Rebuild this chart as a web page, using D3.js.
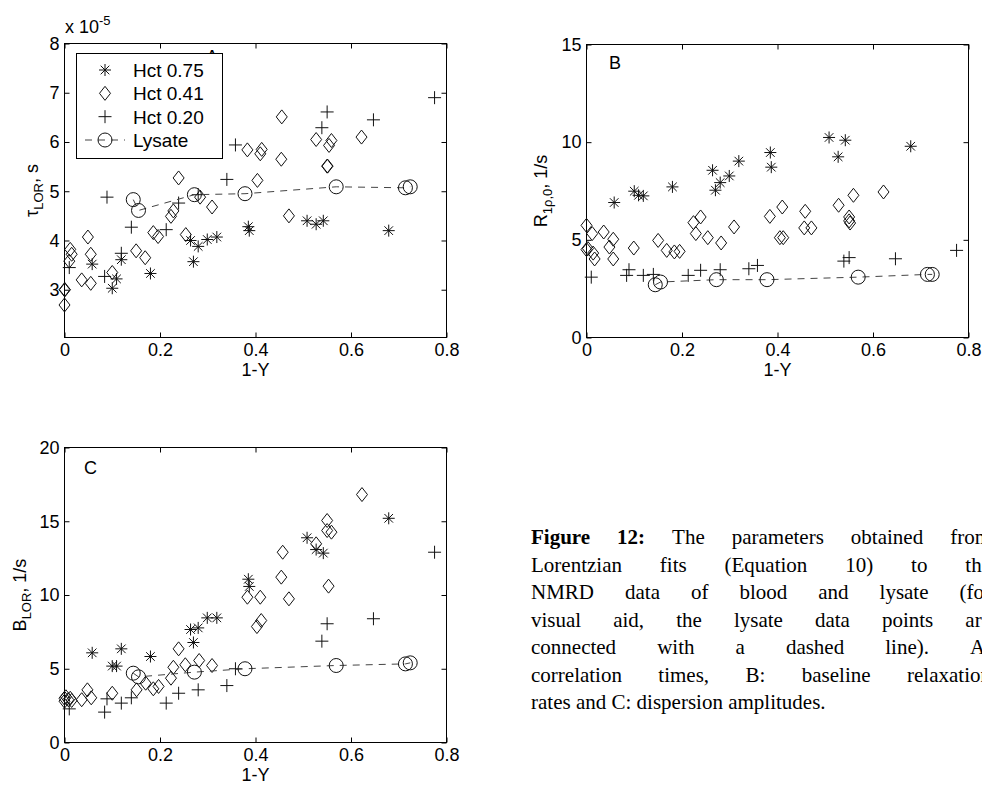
<!DOCTYPE html>
<html><head><meta charset="utf-8">
<script src="https://cdn.jsdelivr.net/npm/d3@7"></script>
<style>body{margin:0;background:#fff;overflow:hidden}svg{display:block}</style>
</head><body>
<svg id="c" width="982" height="791"></svg>
<script>
// ---------------- DATA ----------------
const xTicks = [0, 0.2, 0.4, 0.6, 0.8];
const xTickLabels = ["0", "0.2", "0.4", "0.6", "0.8"];
const yTicksA = [3, 4, 5, 6, 7, 8];
const yTicksB = [0, 5, 10, 15];
const yTicksC = [0, 5, 10, 15, 20];
const seriesNames = ["Hct 0.75", "Hct 0.41", "Hct 0.20", "Lysate"];

// Hct 0.75 (asterisks)
const hct75X = [0.058, 0.100, 0.109, 0.119, 0.180, 0.264, 0.270, 0.280, 0.299, 0.319, 0.385, 0.387, 0.508, 0.527, 0.542, 0.679];
const hct75A = [3.52, 3.03, 3.22, 3.61, 3.33, 4.00, 3.57, 3.88, 4.02, 4.07, 4.28, 4.20, 4.40, 4.33, 4.40, 4.20];
const hct75B = [6.91, 7.49, 7.28, 7.25, 7.71, 8.56, 7.54, 7.93, 8.27, 9.03, 9.47, 8.72, 10.24, 9.25, 10.10, 9.79];
const hct75C = [6.08, 5.18, 5.18, 6.35, 5.83, 7.66, 6.78, 7.77, 8.45, 8.45, 11.07, 10.58, 13.88, 13.08, 12.84, 15.20];

// Hct 0.20 (plus)
const hct20X = [0.010, 0.084, 0.089, 0.119, 0.140, 0.213, 0.239, 0.280, 0.340, 0.358, 0.539, 0.550, 0.647, 0.775];
const hct20A = [3.45, 3.27, 4.88, 3.74, 4.27, 4.22, 4.76, 4.93, 5.24, 5.94, 6.29, 6.61, 6.45, 6.90];
const hct20B = [3.09, 3.18, 3.47, 3.18, 3.23, 3.18, 3.44, 3.47, 3.52, 3.69, 3.91, 4.09, 4.03, 4.46];
const hct20C = [2.28, 2.06, 2.96, 2.67, 3.03, 2.67, 3.34, 3.57, 3.86, 5.00, 6.87, 8.05, 8.39, 12.90];

// Lysate (circles, dashed line)
const lysateX = [0.144, 0.155, 0.272, 0.378, 0.569, 0.714, 0.724];
const lysateA = [4.83, 4.61, 4.93, 4.95, 5.09, 5.07, 5.09];
const lysateB = [2.70, 2.84, 2.96, 2.96, 3.09, 3.23, 3.23];
const lysateC = [4.70, 4.45, 4.77, 5.00, 5.22, 5.33, 5.40];

// Hct 0.41 (diamonds), read per panel
const hct41AX = [0, 0.001, 0, 0.010, 0.012, 0.015, 0.036, 0.049, 0.055, 0.055, 0.100, 0.150, 0.169, 0.186, 0.196, 0.223, 0.228, 0.239, 0.254, 0.284, 0.309, 0.383, 0.404, 0.410, 0.413, 0.454, 0.455, 0.470, 0.527, 0.550, 0.551, 0.554, 0.559, 0.622];
const hct41AY = [3.00, 3.00, 2.69, 3.58, 3.82, 3.72, 3.20, 4.07, 3.72, 3.13, 3.35, 3.79, 3.65, 4.16, 4.08, 4.49, 4.60, 5.27, 4.12, 4.88, 4.68, 5.84, 5.22, 5.76, 5.85, 5.65, 6.51, 4.50, 6.05, 5.51, 5.51, 5.93, 6.03, 6.10];
const hct41BX = [0, 0, 0.003, 0.012, 0.014, 0.017, 0.036, 0.048, 0.056, 0.056, 0.099, 0.150, 0.168, 0.184, 0.195, 0.224, 0.229, 0.239, 0.254, 0.282, 0.309, 0.384, 0.405, 0.410, 0.412, 0.456, 0.458, 0.471, 0.528, 0.550, 0.550, 0.552, 0.559, 0.622];
const hct41BY = [5.74, 4.50, 4.55, 5.32, 4.32, 4.02, 5.40, 4.63, 5.03, 4.02, 4.58, 4.97, 4.46, 4.38, 4.41, 5.88, 5.32, 6.17, 5.11, 4.84, 5.66, 6.20, 5.11, 6.68, 5.11, 5.61, 6.46, 5.61, 6.77, 6.17, 5.97, 5.86, 7.28, 7.45];
const hct41CX = [0, 0, 0.003, 0.008, 0.012, 0.015, 0.036, 0.048, 0.056, 0.100, 0.151, 0.170, 0.186, 0.197, 0.223, 0.228, 0.239, 0.253, 0.282, 0.309, 0.383, 0.403, 0.410, 0.412, 0.454, 0.457, 0.470, 0.527, 0.550, 0.550, 0.553, 0.559, 0.623];
const hct41CY = [3.00, 2.80, 3.10, 2.90, 3.00, 2.85, 2.90, 3.57, 3.03, 3.34, 3.57, 4.02, 3.64, 3.80, 4.36, 5.10, 6.35, 5.27, 5.56, 5.22, 9.85, 7.86, 9.85, 8.27, 11.21, 12.90, 9.74, 13.47, 15.05, 14.37, 10.60, 14.26, 16.81];

const captionLines = [
  "Figure 12: The parameters obtained from",
  "Lorentzian fits (Equation 10) to the",
  "NMRD data of blood and lysate (for",
  "visual aid, the lysate data points are",
  "connected with a dashed line). A:",
  "correlation times, B: baseline relaxation",
  "rates and C: dispersion amplitudes."
];
const captionBoldWords = 2;

// ---------------- DRAWING ----------------
const svg = d3.select("#c");
const FONT = "'Liberation Sans', Arial, Helvetica, sans-serif";
const SERIF = "'Liberation Serif', 'Times New Roman', Times, serif";
const zip = (xs, ys) => xs.map((x, i) => [x, ys[i]]);

const markerPath = {
  star: "M-6,0H6M0,-6V6M-4.3,-4.3L4.3,4.3M-4.3,4.3L4.3,-4.3",
  diamond: "M0,-7L5.5,0L0,7L-5.5,0Z",
  plus: "M-6.5,0H6.5M0,-6.5V6.5"
};

function panel(cfg) {
  const g = svg.append("g");
  const x = d3.scaleLinear().domain([0, 0.8]).range([cfg.left, cfg.right]);
  const y = d3.scaleLinear().domain(cfg.yDomain).range([cfg.bottom, cfg.top]);

  const styleAxis = sel => {
    sel.select(".domain").remove();
    sel.selectAll("line").attr("stroke", "#000").attr("stroke-width", 1);
    sel.selectAll("text").attr("font-family", FONT).attr("font-size", 18).attr("fill", "#000");
  };
  g.append("g").attr("transform", `translate(0,${cfg.bottom})`)
    .call(d3.axisBottom(x).tickValues(xTicks).tickFormat((d, i) => xTickLabels[i]).tickSizeInner(-5).tickSizeOuter(0).tickPadding(6))
    .call(styleAxis);
  g.append("g").attr("transform", `translate(0,${cfg.top})`)
    .call(d3.axisTop(x).tickValues(xTicks).tickFormat("").tickSizeInner(-5).tickSizeOuter(0))
    .call(styleAxis);
  g.append("g").attr("transform", `translate(${cfg.left},0)`)
    .call(d3.axisLeft(y).tickValues(cfg.yTicks).tickFormat(d3.format("d")).tickSizeInner(-5).tickSizeOuter(0).tickPadding(5))
    .call(styleAxis);
  g.append("g").attr("transform", `translate(${cfg.right},0)`)
    .call(d3.axisRight(y).tickValues(cfg.yTicks).tickFormat("").tickSizeInner(-5).tickSizeOuter(0))
    .call(styleAxis);

  g.append("rect").attr("x", cfg.left).attr("y", cfg.top)
    .attr("width", cfg.right - cfg.left).attr("height", cfg.bottom - cfg.top)
    .attr("fill", "none").attr("stroke", "#000").attr("stroke-width", 1);

  // x label
  g.append("text").attr("x", (cfg.left + cfg.right) / 2).attr("y", cfg.bottom + 38)
    .attr("text-anchor", "middle").attr("font-family", FONT).attr("font-size", 18).text("1-Y");

  // y label
  const yl = g.append("text")
    .attr("transform", `translate(${cfg.ylabX},${(cfg.top + cfg.bottom) / 2}) rotate(-90)`)
    .attr("text-anchor", "middle").attr("font-family", FONT).attr("font-size", 18);
  yl.append("tspan").text(cfg.ylab[0]);
  yl.append("tspan").attr("font-size", 13).attr("dy", 5).text(cfg.ylab[1]);
  yl.append("tspan").attr("dy", -5).text(cfg.ylab[2]);

  // panel letter
  g.append("text").attr("x", cfg.letterX).attr("y", cfg.letterY)
    .attr("font-family", FONT).attr("font-size", 18).text(cfg.letter);

  const marks = g.append("g");
  const drawSym = (pts, type) => marks.append("g").selectAll("path").data(pts).join("path")
    .attr("transform", d => `translate(${x(d[0])},${y(d[1])})`)
    .attr("d", markerPath[type]).attr("fill", "none")
    .attr("stroke", "#111").attr("stroke-width", 1);

  drawSym(cfg.h41, "diamond");
  drawSym(cfg.h75, "star");
  drawSym(cfg.h20, "plus");

  // lysate line + circles
  marks.append("path").datum(cfg.lys)
    .attr("d", d3.line().x(d => x(d[0])).y(d => y(d[1])))
    .attr("fill", "none").attr("stroke", "#444").attr("stroke-width", 1).attr("stroke-dasharray", "7,6");
  marks.append("g").selectAll("circle").data(cfg.lys).join("circle")
    .attr("cx", d => x(d[0])).attr("cy", d => y(d[1])).attr("r", 7)
    .attr("fill", "none").attr("stroke", "#111").attr("stroke-width", 1);
  return { g, x, y };
}

const pA = panel({
  left: 64.5, right: 446.5, top: 43.5, bottom: 337.5, yDomain: [2.03, 8], yTicks: yTicksA,
  ylabX: 38, ylab: ["\u03c4", "LOR", ", s"], letter: "A", letterX: 206, letterY: 63,
  h75: zip(hct75X, hct75A), h20: zip(hct20X, hct20A), lys: zip(lysateX, lysateA), h41: zip(hct41AX, hct41AY)
});
const pB = panel({
  left: 586.5, right: 968.5, top: 44.5, bottom: 337.5, yDomain: [0, 15], yTicks: yTicksB,
  ylabX: 547, ylab: ["R", "1\u03c1,0", ", 1/s"], letter: "B", letterX: 609, letterY: 69,
  h75: zip(hct75X, hct75B), h20: zip(hct20X, hct20B), lys: zip(lysateX, lysateB), h41: zip(hct41BX, hct41BY)
});
const pC = panel({
  left: 64.5, right: 446.5, top: 447.5, bottom: 742.5, yDomain: [0, 20], yTicks: yTicksC,
  ylabX: 26, ylab: ["B", "LOR", ", 1/s"], letter: "C", letterX: 84, letterY: 474,
  h75: zip(hct75X, hct75C), h20: zip(hct20X, hct20C), lys: zip(lysateX, lysateC), h41: zip(hct41CX, hct41CY)
});

// exponent label for panel A
const ex = svg.append("text").attr("x", 65).attr("y", 33).attr("font-family", FONT).attr("font-size", 18);
ex.append("tspan").text("x 10");
ex.append("tspan").attr("font-size", 13).attr("dy", -8).text("-5");

// legend in panel A
const lg = svg.append("g");
lg.append("rect").attr("x", 76.5).attr("y", 53.5).attr("width", 146).attr("height", 105)
  .attr("fill", "#fff").attr("stroke", "#000").attr("stroke-width", 1);
const legendTypes = ["star", "diamond", "plus", "lysate"];
const ly = d3.scalePoint().domain(seriesNames).range([70, 140]);
seriesNames.forEach((name, i) => {
  const cy = ly(name), t = legendTypes[i];
  if (t === "lysate") {
    lg.append("line").attr("x1", 85).attr("x2", 125).attr("y1", cy).attr("y2", cy)
      .attr("stroke", "#444").attr("stroke-dasharray", "7,6").attr("stroke-dashoffset", 0);
    lg.append("circle").attr("cx", 105).attr("cy", cy).attr("r", 7).attr("fill", "none").attr("stroke", "#111");
  } else {
    lg.append("path").attr("transform", `translate(105,${cy})`).attr("d", markerPath[t])
      .attr("fill", "none").attr("stroke", "#111");
  }
  lg.append("text").attr("x", 133).attr("y", cy + 7).attr("font-family", FONT).attr("font-size", 19).text(name);
});

// caption (justified, clipped by window edge)
const capL = 531, capR = 991, capY0 = 544, capDY = 27.5;
const cap = svg.append("g").attr("font-family", SERIF).attr("font-size", 21);
captionLines.forEach((line, li) => {
  const words = line.split(" ");
  const nodes = words.map((w, wi) => cap.append("text")
    .attr("y", capY0 + li * capDY)
    .attr("font-weight", (li === 0 && wi < captionBoldWords) ? "bold" : "normal")
    .text(w));
  const widths = nodes.map(n => n.node().getComputedTextLength());
  const total = d3.sum(widths);
  const last = li === captionLines.length - 1;
  const gap = last ? 5.25 : (capR - capL - total) / (words.length - 1);
  let xp = capL;
  nodes.forEach((n, i) => { n.attr("x", xp); xp += widths[i] + gap; });
});
</script>
</body></html>
